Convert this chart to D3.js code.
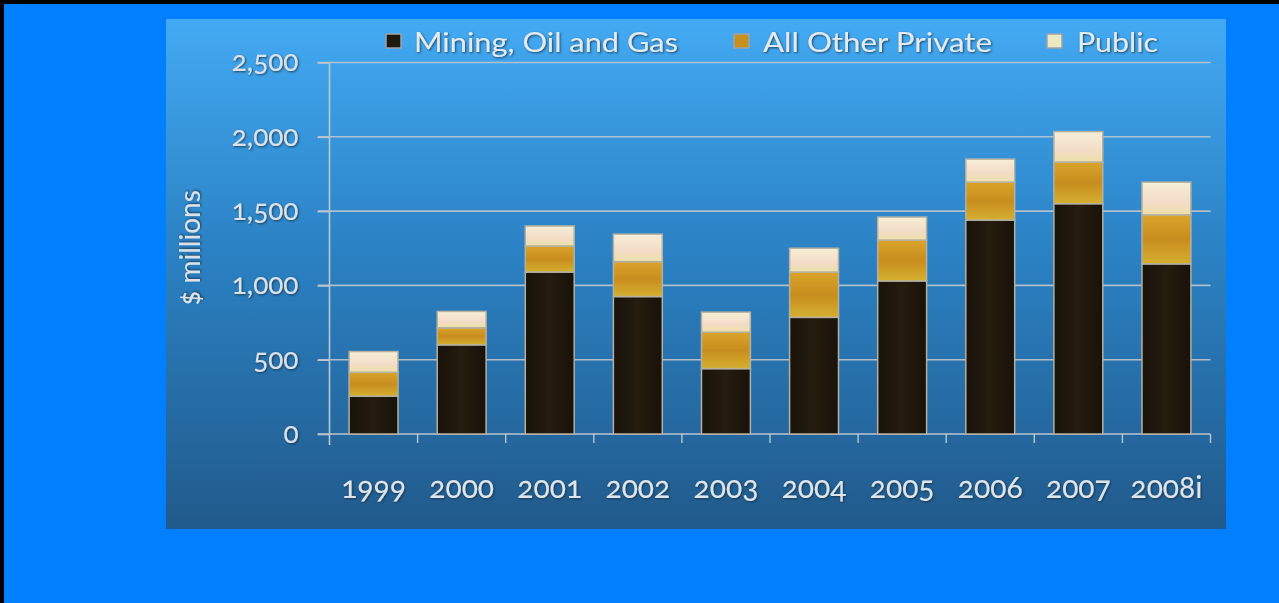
<!DOCTYPE html>
<html>
<head>
<meta charset="utf-8">
<script src="https://cdn.jsdelivr.net/npm/d3@7"></script>
<style>
html,body{margin:0;padding:0;background:#0080ff;}
svg{display:block;}
text{font-family:Lato,"Open Sans",sans-serif;font-feature-settings:"onum" 1;}
</style>
</head>
<body>
<svg id="chart" width="1279" height="603"></svg>
<script>
const years = ["1999","2000","2001","2002","2003","2004","2005","2006","2007","2008i"];
const mining = [255, 600, 1090, 925, 440, 785, 1030, 1440, 1550, 1145];
const otherPrivate = [160, 115, 175, 235, 245, 305, 275, 255, 280, 330];
const publicSector = [140, 110, 135, 185, 135, 160, 155, 155, 205, 220];
const seriesNames = ["Mining, Oil and Gas", "All Other Private", "Public"];
const yTicks = [0, 500, 1000, 1500, 2000, 2500];
const yTitle = "$ millions";

const svg = d3.select("#chart");
const W = 1279, H = 603;

svg.append("rect").attr("x",0).attr("y",0).attr("width",W).attr("height",H).attr("fill","#0080ff");
svg.append("rect").attr("x",0).attr("y",0).attr("width",W).attr("height",4).attr("fill","#000");
svg.append("rect").attr("x",0).attr("y",0).attr("width",4).attr("height",H).attr("fill","#000");

const defs = svg.append("defs");
const pg = defs.append("linearGradient").attr("id","panelGrad").attr("x1",0).attr("y1",0).attr("x2",0).attr("y2",1);
pg.append("stop").attr("offset","0%").attr("stop-color","#43aaf3");
pg.append("stop").attr("offset","45%").attr("stop-color","#2b82c4");
pg.append("stop").attr("offset","100%").attr("stop-color","#215a8b");

const mg = defs.append("linearGradient").attr("id","minGrad").attr("x1",0).attr("y1",0).attr("x2",1).attr("y2",0);
mg.append("stop").attr("offset","0%").attr("stop-color","#18120a");
mg.append("stop").attr("offset","50%").attr("stop-color","#261c0e");
mg.append("stop").attr("offset","100%").attr("stop-color","#18120a");
const og = defs.append("linearGradient").attr("id","othGrad").attr("x1",0).attr("y1",0).attr("x2",0).attr("y2",1);
og.append("stop").attr("offset","0%").attr("stop-color","#d9a42a");
og.append("stop").attr("offset","50%").attr("stop-color","#c88d1e");
og.append("stop").attr("offset","100%").attr("stop-color","#d4b030");
const ug = defs.append("linearGradient").attr("id","pubGrad").attr("x1",0).attr("y1",0).attr("x2",0).attr("y2",1);
ug.append("stop").attr("offset","0%").attr("stop-color","#f6efd6");
ug.append("stop").attr("offset","60%").attr("stop-color","#f3dcc8");
ug.append("stop").attr("offset","100%").attr("stop-color","#ede0a8");

const sh = defs.append("filter").attr("id","shadow").attr("x","-10%").attr("y","-20%").attr("width","130%").attr("height","150%");
sh.append("feDropShadow").attr("dx",1).attr("dy",1).attr("stdDeviation",0.8).attr("flood-color","#1a2a3a").attr("flood-opacity",0.8);

svg.append("rect").attr("x",166).attr("y",19).attr("width",1060).attr("height",510).attr("fill","url(#panelGrad)");

const x = d3.scaleBand().domain(years).range([329.5, 1210.5]).paddingInner(0.445).paddingOuter(0.2225);
const y = d3.scaleLinear().domain([0, 2500]).range([434, 62.5]);

const g = svg.append("g");
g.selectAll("line.grid").data(yTicks.filter(d=>d>0)).join("line")
  .attr("x1",318).attr("x2",1210.5)
  .attr("y1",d=>y(d)).attr("y2",d=>y(d))
  .attr("stroke","#bcc6cf").attr("stroke-width",1.6).attr("opacity",0.9);

const yAxis = d3.axisLeft(y).tickValues(yTicks).tickSize(12).tickFormat(d3.format(","));
const ya = svg.append("g").attr("transform","translate(329.5,0)").call(yAxis);
ya.select(".domain").attr("stroke","#bcc6cf").attr("stroke-width",1.6).attr("d","M0,62.5V445");
ya.selectAll(".tick line").attr("stroke","#bcc6cf").attr("stroke-width",1.6);
ya.selectAll(".tick text").attr("x",-31).attr("fill","#d9e2ea").attr("font-size",28).attr("font-weight",400)
  .attr("filter","url(#shadow)").attr("dy","0.3em");

const xa = svg.append("g").attr("transform","translate(0,434)");
xa.append("line").attr("x1",318).attr("x2",1210.5).attr("y1",0).attr("y2",0).attr("stroke","#bcc6cf").attr("stroke-width",1.6);
const bounds = years.map((v,i)=> 329.5 + (i+1)*x.step());
xa.selectAll("line.tk").data(bounds).join("line")
  .attr("x1",d=>d).attr("x2",d=>d).attr("y1",0).attr("y2",9)
  .attr("stroke","#bcc6cf").attr("stroke-width",1.4);
xa.selectAll("text").data(years).join("text")
  .attr("x",d=>x(d)+x.bandwidth()/2).attr("y",64)
  .attr("text-anchor","middle").attr("fill","#dde5ec").attr("font-size",30).attr("font-weight",400)
  .attr("filter","url(#shadow)")
  .text(d=>d);

const rows = years.map((yr,i)=>({year:yr, m:mining[i], o:otherPrivate[i], p:publicSector[i]}));
const stack = d3.stack().keys(["m","o","p"])(rows);
const fills = ["url(#minGrad)","url(#othGrad)","url(#pubGrad)"];
stack.forEach((layer,li)=>{
  svg.append("g").selectAll("rect").data(layer).join("rect")
    .attr("x",d=>x(d.data.year)).attr("width",x.bandwidth())
    .attr("y",d=>y(d[1])).attr("height",d=>y(d[0])-y(d[1]))
    .attr("fill",fills[li]).attr("stroke","#b5b0a0").attr("stroke-width",1.5);
});

svg.append("text").attr("transform","translate(200,248) rotate(-90)")
  .attr("text-anchor","middle").attr("fill","#d9e2ea").attr("font-size",28).attr("font-weight",400)
  .attr("filter","url(#shadow)").text(yTitle);

const legendX = [386, 734, 1047];
const legendTextX = [414, 763, 1077];
const legendW = [264, 229, 81];
const legendSw = ["#1e1810","#c8901f","#ece8c2"];
const lg = svg.append("g");
seriesNames.forEach((n,i)=>{
  lg.append("rect").attr("x",legendX[i]).attr("y",34).attr("width",15).attr("height",14)
    .attr("fill",legendSw[i]).attr("stroke","#9aa4ad").attr("stroke-width",1.5);
  lg.append("text").attr("x",legendTextX[i]).attr("y",43).attr("dy","0.35em")
    .attr("fill","#e3eaf0").attr("font-size",27).attr("font-weight",400)
    .attr("textLength",legendW[i]).attr("lengthAdjust","spacingAndGlyphs")
    .attr("filter","url(#shadow)").text(n);
});
</script>
</body>
</html>
